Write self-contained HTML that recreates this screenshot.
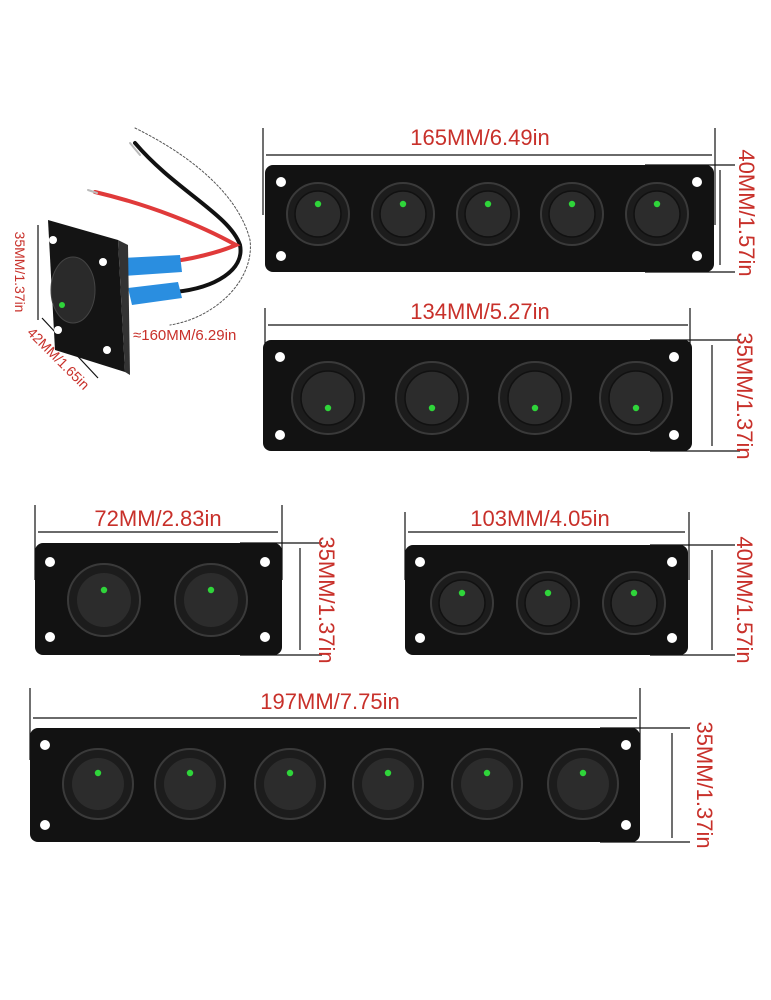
<!DOCTYPE html>
<html><head><meta charset="utf-8"><style>html,body{margin:0;padding:0;background:#fff}svg{display:block}text{font-family:"Liberation Sans",sans-serif;fill:#c8302a;font-size:22px}.sm{font-size:15px}.xs{font-size:14px}</style></head>
<body>
<svg width="771" height="1000" viewBox="0 0 771 1000" xmlns="http://www.w3.org/2000/svg">
<defs>
<g id="sw"><circle r="31" fill="#1c1c1c" stroke="#3a3a3a" stroke-width="2"/><circle r="23" fill="#2c2c2c" stroke="#111" stroke-width="1.5"/><circle cx="0" cy="-10" r="3.2" fill="#2fd53a"/></g>
<g id="swb"><circle r="36" fill="#1c1c1c" stroke="#3a3a3a" stroke-width="2"/><circle r="27" fill="#2c2c2c" stroke="#111" stroke-width="1.5"/><circle cx="0" cy="10" r="3.2" fill="#2fd53a"/></g>
<g id="s6"><circle r="35" fill="#1c1c1c" stroke="#3a3a3a" stroke-width="2"/><circle r="26" fill="#2c2c2c"/><circle cy="-11" r="3.2" fill="#2fd53a"/></g>
<g id="s3"><circle r="36" fill="#1c1c1c" stroke="#3a3a3a" stroke-width="2"/><circle r="27" fill="#2c2c2c"/><circle cy="-10" r="3.2" fill="#2fd53a"/></g>
</defs>
<g stroke="#111" stroke-width="1.2" fill="none">
<line x1="263" y1="128" x2="263" y2="215"/><line x1="715" y1="128" x2="715" y2="225"/><line x1="266" y1="155" x2="712" y2="155"/>
<line x1="645" y1="165" x2="735" y2="165"/><line x1="645" y1="272" x2="735" y2="272"/><line x1="720" y1="170" x2="720" y2="265"/>
<line x1="265" y1="308" x2="265" y2="380"/><line x1="690" y1="308" x2="690" y2="380"/><line x1="268" y1="325" x2="688" y2="325"/>
<line x1="650" y1="340" x2="740" y2="340"/><line x1="650" y1="451" x2="740" y2="451"/><line x1="712" y1="345" x2="712" y2="446"/>
<line x1="35" y1="505" x2="35" y2="580"/><line x1="282" y1="505" x2="282" y2="580"/><line x1="38" y1="532" x2="278" y2="532"/>
<line x1="240" y1="543" x2="322" y2="543"/><line x1="240" y1="655" x2="322" y2="655"/><line x1="300" y1="548" x2="300" y2="650"/>
<line x1="405" y1="512" x2="405" y2="580"/><line x1="689" y1="512" x2="689" y2="580"/><line x1="408" y1="532" x2="685" y2="532"/>
<line x1="650" y1="545" x2="735" y2="545"/><line x1="650" y1="655" x2="735" y2="655"/><line x1="712" y1="550" x2="712" y2="650"/>
<line x1="30" y1="688" x2="30" y2="760"/><line x1="640" y1="688" x2="640" y2="760"/><line x1="33" y1="718" x2="637" y2="718"/>
<line x1="600" y1="728" x2="690" y2="728"/><line x1="600" y1="842" x2="690" y2="842"/><line x1="672" y1="733" x2="672" y2="838"/>
<line x1="38" y1="225" x2="38" y2="320"/><line x1="42" y1="318" x2="98" y2="378"/>
</g>
<g fill="none" stroke-linecap="round">
<path d="M135 143 C175 190,230 215,240 245 C245 270,215 288,175 292" stroke="#111" stroke-width="4"/>
<path d="M130 143 L140 155" stroke="#bbb" stroke-width="2"/>
<path d="M95 192 C150 205,200 225,236 245 C220 252,190 260,165 262" stroke="#e03a3a" stroke-width="4"/>
<path d="M88 190 L97 193" stroke="#bbb" stroke-width="2"/>
<path d="M135 128 C200 160,240 200,250 240 C255 280,215 318,170 325" stroke="#555" stroke-width="1" stroke-dasharray="2 2"/>
</g>
<path d="M122 258 L180 255 L182 272 L124 276 Z" fill="#2a8ee0"/>
<path d="M128 288 L178 282 L182 298 L132 305 Z" fill="#2a8ee0"/>
<path d="M48 220 L118 240 L125 372 L55 350 Z" fill="#141414"/>
<path d="M118 240 L128 245 L130 375 L125 372 Z" fill="#333"/>
<ellipse cx="73" cy="290" rx="22" ry="33" fill="#2a2a2a" stroke="#444"/>
<circle cx="62" cy="305" r="3" fill="#2fd53a"/>
<circle cx="53" cy="240" r="4" fill="#fff"/><circle cx="103" cy="262" r="4" fill="#fff"/><circle cx="58" cy="330" r="4" fill="#fff"/><circle cx="107" cy="350" r="4" fill="#fff"/>
<text x="133" y="340" class="sm">≈160MM/6.29in</text>
<text transform="translate(15,272) rotate(90)" text-anchor="middle" class="xs">35MM/1.37in</text>
<text transform="translate(55,362) rotate(45)" text-anchor="middle" class="xs">42MM/1.65in</text>
<rect x="265" y="165" width="449" height="107" rx="8" fill="#121212"/>
<g fill="#fff"><circle cx="281" cy="182" r="5"/><circle cx="697" cy="182" r="5"/><circle cx="281" cy="256" r="5"/><circle cx="697" cy="256" r="5"/></g>
<use href="#sw" x="318" y="214"/><use href="#sw" x="403" y="214"/><use href="#sw" x="488" y="214"/><use href="#sw" x="572" y="214"/><use href="#sw" x="657" y="214"/>
<text x="480" y="145" text-anchor="middle">165MM/6.49in</text>
<text transform="translate(739,213) rotate(90)" text-anchor="middle">40MM/1.57in</text>
<rect x="263" y="340" width="429" height="111" rx="8" fill="#121212"/>
<g fill="#fff"><circle cx="280" cy="357" r="5"/><circle cx="674" cy="357" r="5"/><circle cx="280" cy="435" r="5"/><circle cx="674" cy="435" r="5"/></g>
<use href="#swb" x="328" y="398"/><use href="#swb" x="432" y="398"/><use href="#swb" x="535" y="398"/><use href="#swb" x="636" y="398"/>
<text x="480" y="319" text-anchor="middle">134MM/5.27in</text>
<text transform="translate(737,396) rotate(90)" text-anchor="middle">35MM/1.37in</text>
<rect x="35" y="543" width="247" height="112" rx="8" fill="#121212"/>
<g fill="#fff"><circle cx="50" cy="562" r="5"/><circle cx="265" cy="562" r="5"/><circle cx="50" cy="637" r="5"/><circle cx="265" cy="637" r="5"/></g>
<use href="#s3" x="104" y="600"/><use href="#s3" x="211" y="600"/>
<text x="158" y="526" text-anchor="middle">72MM/2.83in</text>
<text transform="translate(319,600) rotate(90)" text-anchor="middle">35MM/1.37in</text>
<rect x="405" y="545" width="283" height="110" rx="8" fill="#121212"/>
<g fill="#fff"><circle cx="420" cy="562" r="5"/><circle cx="672" cy="562" r="5"/><circle cx="420" cy="638" r="5"/><circle cx="672" cy="638" r="5"/></g>
<use href="#sw" x="462" y="603"/><use href="#sw" x="548" y="603"/><use href="#sw" x="634" y="603"/>
<text x="540" y="526" text-anchor="middle">103MM/4.05in</text>
<text transform="translate(737,600) rotate(90)" text-anchor="middle">40MM/1.57in</text>
<rect x="30" y="728" width="610" height="114" rx="8" fill="#121212"/>
<g fill="#fff"><circle cx="45" cy="745" r="5"/><circle cx="626" cy="745" r="5"/><circle cx="45" cy="825" r="5"/><circle cx="626" cy="825" r="5"/></g>
<use href="#s6" x="98" y="784"/><use href="#s6" x="190" y="784"/><use href="#s6" x="290" y="784"/><use href="#s6" x="388" y="784"/><use href="#s6" x="487" y="784"/><use href="#s6" x="583" y="784"/>
<text x="330" y="709" text-anchor="middle">197MM/7.75in</text>
<text transform="translate(697,785) rotate(90)" text-anchor="middle">35MM/1.37in</text>
</svg>
</body></html>
